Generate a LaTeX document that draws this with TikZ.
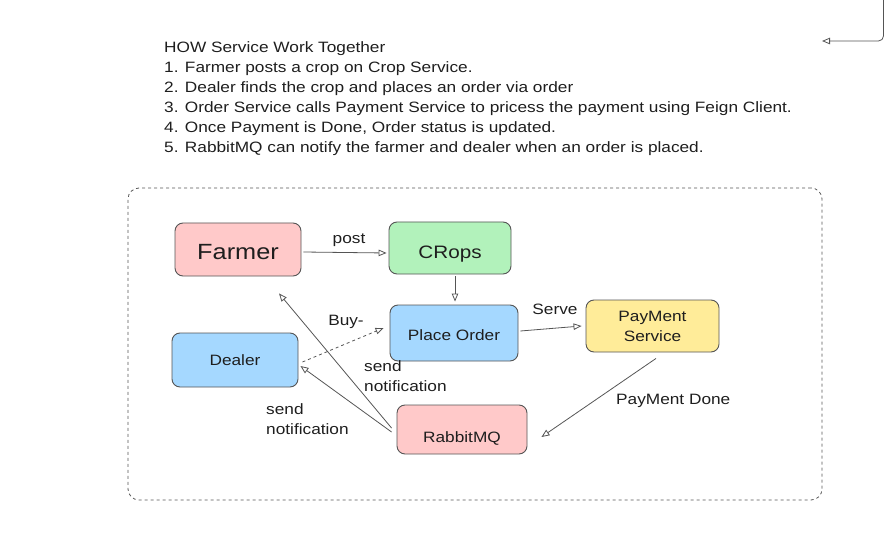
\documentclass[tikz,border=0pt]{standalone}
\usepackage{fontspec}
\setmainfont[FakeStretch=1.15]{Liberation Sans}
\usetikzlibrary{arrows.meta,calc}
\definecolor{inkc}{HTML}{1E1E1E}
\definecolor{linec}{HTML}{555555}
\definecolor{pinkf}{HTML}{FFC9C9}
\definecolor{greenf}{HTML}{B2F2BB}
\definecolor{bluef}{HTML}{A5D8FF}
\definecolor{yellowf}{HTML}{FFEC99}
\begin{document}
\begin{tikzpicture}[x=1pt,y=-1pt,
  box/.style={draw=linec,line width=0.9pt,rounded corners=8pt,inner sep=0pt,align=center,text=inkc,font=\fontsize{15}{20}\selectfont},
  conn/.style={draw=linec,line width=0.8pt,-{Triangle[open,length=8pt,width=6.5pt]}},
  lbl/.style={inner sep=0pt,text=inkc,font=\fontsize{15}{20}\selectfont,align=left},
]
\useasboundingbox (0,0) rectangle (885,537);
% top-right connector
\coordinate (tr) at (883.5,0);
\coordinate (tl) at (822,41);
\draw[conn,rounded corners=5pt] (tr) |- (tl);
% description text
\node[lbl,anchor=north west] (desc) at (164,41) {HOW Service Work Together\\
1. Farmer posts a crop on Crop Service.\\
2. Dealer finds the crop and places an order via order\\
3. Order Service calls Payment Service to pricess the payment using Feign Client.\\
4. Once Payment is Done, Order status is updated.\\
5. RabbitMQ can notify the farmer and dealer when an order is placed.};
% container
\node[draw=linec,dashed,line width=0.8pt,rounded corners=11pt,minimum width=694pt,minimum height=312pt,inner sep=0pt] (frame) at (475,344) {};
% boxes
\node[box,fill=pinkf,minimum width=126pt,minimum height=53pt,font=\fontsize{22}{26}\selectfont,text height=19pt,text depth=0pt] (farmer) at (238,249.5) {Farmer};
\node[box,fill=greenf,minimum width=122pt,minimum height=52pt,font=\fontsize{18}{22}\selectfont,text height=21pt,text depth=0pt] (crops) at (450,248) {CRops};
\node[box,fill=bluef,minimum width=128pt,minimum height=56pt,text height=15pt,text depth=0pt] (order) at (454,333) {Place Order};
\node[box,fill=bluef,minimum width=126pt,minimum height=54pt,text height=11pt,text depth=0pt] (dealer) at (235,360) {Dealer};
\node[box,fill=yellowf,minimum width=133pt,minimum height=52pt] (pay) at (652.5,326) {PayMent\\Service};
\node[box,fill=pinkf,minimum width=130pt,minimum height=49pt,text height=26pt,text depth=0pt] (rabbit) at (462,429.5) {RabbitMQ};
% connectors
\draw[conn] ([xshift=2pt,yshift=-2.5pt]farmer.east) -- ([xshift=-2pt,yshift=-5pt]crops.west);
\draw[conn] ([xshift=5pt,yshift=-2pt]crops.south) -- ([xshift=1pt,yshift=3pt]order.north);
\draw[conn] ([xshift=2pt,yshift=2pt]order.east) -- ([xshift=-4pt]pay.west);
\draw[conn,dashed] ([xshift=4pt,yshift=-2pt]dealer.east) -- ([xshift=-6pt,yshift=5pt]order.west);
\draw[conn] ([xshift=3.5pt,yshift=-6pt]pay.south) -- ([xshift=14pt,yshift=-7.5pt]rabbit.east);
\draw[conn] ([xshift=-5pt,yshift=1.5pt]rabbit.west) -- ([xshift=41pt,yshift=-17pt]farmer.south);
\draw[conn] ([xshift=-5pt,yshift=-2.5pt]rabbit.west) -- ([xshift=2pt,yshift=-6pt]dealer.east);
% labels
\node[lbl] (lpost) at (349,240.5) {post};
\node[lbl] (lserve) at (555,309) {Serve};
\node[lbl] (lbuy) at (346,321.5) {Buy-};
\node[lbl,anchor=west] (lpaid) at (616,401) {PayMent Done};
\node[lbl,anchor=north west] (lnotf) at (364,360) {send\\notification};
\node[lbl,anchor=north west] (lnotd) at (266,403) {send\\notification};
\end{tikzpicture}
\end{document}
